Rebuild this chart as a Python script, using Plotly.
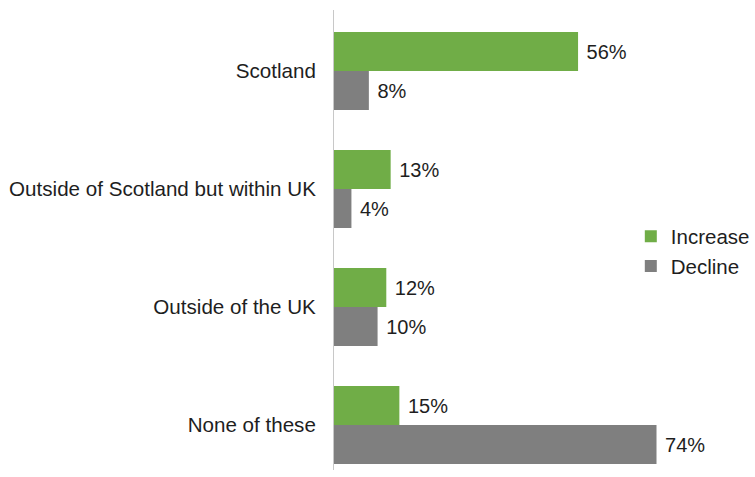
import plotly.graph_objects as go

categories = ["Scotland", "Outside of Scotland but within UK", "Outside of the UK", "None of these"]
increase = [56, 13, 12, 15]
decline = [8, 4, 10, 74]

GREEN = "#70AD47"
GREY = "#7F7F7F"
FONT = "Liberation Sans, Arial, sans-serif"
TXT = "#1E1E1E"

fig = go.Figure()
for name, vals, col in [("Increase", increase, GREEN), ("Decline", decline, GREY)]:
    fig.add_trace(go.Bar(
        name=name,
        y=categories,
        x=vals,
        orientation="h",
        marker=dict(color=col, line=dict(width=0)),
        text=[f" {v}%" for v in vals],
        textposition="outside",
        textfont=dict(family=FONT, size=20, color=TXT),
        cliponaxis=False,
    ))

fig.update_layout(
    width=755, height=477,
    margin=dict(l=334, r=0, t=10, b=7),
    barmode="group",
    bargap=0.339,
    bargroupgap=0,
    plot_bgcolor="white",
    paper_bgcolor="white",
    font=dict(family=FONT, size=20, color=TXT),
    legend=dict(
        x=0.705, y=0.475, xanchor="left", yanchor="middle",
        traceorder="normal",
        font=dict(family=FONT, size=20.5, color=TXT),
        itemwidth=30,
        tracegroupgap=0,
        bgcolor="rgba(0,0,0,0)",
    ),
    showlegend=True,
)
fig.update_xaxes(range=[0, 96.6], showgrid=False, showticklabels=False, zeroline=False,
                 showline=False, ticks="")
fig.update_yaxes(type="category", categoryorder="array", categoryarray=categories,
                 range=[3.381, -0.517], showgrid=False, zeroline=False,
                 showline=True, linecolor="#C8C8C8", linewidth=1,
                 ticks="", ticklabelstandoff=13,
                 tickfont=dict(family=FONT, size=20.6, color=TXT))

fig.write_html("out.html")
